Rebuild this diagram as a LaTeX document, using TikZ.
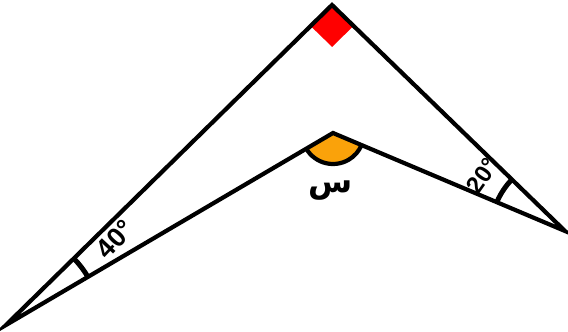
\documentclass[tikz,border=0pt]{standalone}
\usepackage{fontspec}
\setmainfont{Liberation Sans}
\newfontfamily\arabicfont[Script=Arabic]{DejaVu Sans}
\TeXXeTstate=1
\usetikzlibrary{calc,angles}
\definecolor{sqred}{RGB}{255,0,0}
\definecolor{sectorange}{RGB}{250,162,10}
\tikzset{
  edge/.style={line width=4.2pt, line join=miter, line cap=butt},
  anglemark/.style={draw, line width=5pt},
  lbl/.style={font=\fontsize{27}{29}\selectfont\bfseries, inner sep=0pt}
}
\begin{document}
\begin{tikzpicture}[x=1pt,y=1pt]
\useasboundingbox (0,0) rectangle (568,332);
\coordinate (T) at (332,327);
\coordinate (L) at (6,7);
\coordinate (R) at (565,101);
\coordinate (I) at (333,199);
% red right-angle square
\coordinate (A) at ($(T)!30pt!(L)$);
\coordinate (B) at ($(T)!30pt!(R)$);
\fill[sqred] (T) -- (A) -- ($(A)+(B)-(T)$) -- (B) -- cycle;
% orange sector
\pic[fill=sectorange, angle radius=31pt] {angle = L--I--R};
\pic[draw, line width=4.2pt, angle radius=31pt] {angle = L--I--R};
% angle marks
\pic[anglemark, angle radius=95pt] {angle = I--L--T};
\pic[anglemark, angle radius=74pt] {angle = T--R--I};
% edges
\draw[edge] (L) -- (T) -- (R) -- (I) -- cycle;
% labels
\node[lbl, rotate=47] (a40) at (115,93) {40°};
\node[lbl, rotate=55, font=\fontsize{24}{26}\selectfont\bfseries] (a20) at (482,156) {20°};
\node[inner sep=0pt, font=\fontsize{32}{34}\selectfont\bfseries] (x) at (331,141) {\arabicfont\beginR س\endR};
\end{tikzpicture}
\end{document}
